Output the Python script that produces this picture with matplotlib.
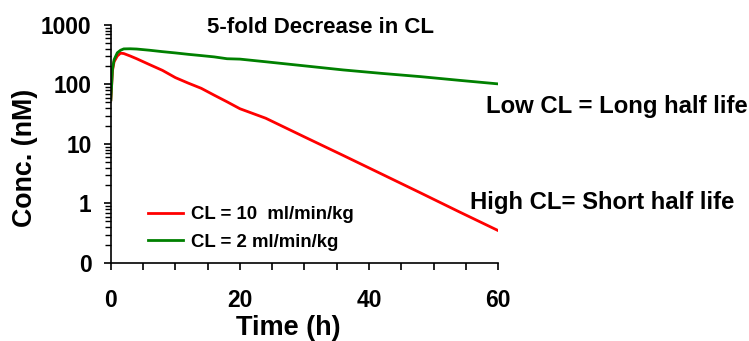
import numpy as np
import matplotlib
matplotlib.use('Agg')
import matplotlib.pyplot as plt
from matplotlib.ticker import FixedLocator, FixedFormatter, LogLocator, MultipleLocator

plt.rcParams['font.family'] = ['Liberation Sans', 'DejaVu Sans']
plt.rcParams['font.weight'] = 'bold'

## Concentration-time data
time_h = [0, 0.25, 0.5, 1, 1.5, 2, 3, 4, 6, 8, 10, 12, 14, 16, 18, 20,
          24, 30, 36, 42, 48, 54, 60]
conc_cl10 = [55, 170, 240, 300, 335, 330, 300, 270, 215, 172, 130, 105, 86,
             66, 51, 39, 27, 13.1, 6.4, 3.1, 1.5, 0.72, 0.35]
conc_cl2 = [55, 180, 260, 340, 375, 395, 397, 393, 375, 355, 338, 320, 305,
            290, 270, 266, 240, 205, 175, 153, 135, 117, 102]

ytick_vals = [0.1, 1, 10, 100, 1000]
ytick_labels = ['0', '1', '10', '100', '1000']
xtick_vals = [0, 20, 40, 60]

fig = plt.figure(figsize=(7.49, 3.41), dpi=100)
ax = fig.add_axes([0.148, 0.229, 0.517, 0.698])

ax.plot(time_h, conc_cl10, color='#ff0000', lw=2, label='CL = 10  ml/min/kg')
ax.plot(time_h, conc_cl2, color='#008000', lw=2, label='CL = 2 ml/min/kg')

ax.set_yscale('log')
ax.set_ylim(0.1, 1000)
ax.set_xlim(0, 60)
ax.yaxis.set_major_locator(FixedLocator(ytick_vals))
ax.yaxis.set_major_formatter(FixedFormatter(ytick_labels))
ax.yaxis.set_minor_locator(LogLocator(base=10, subs=np.arange(2, 10)))
ax.yaxis.set_minor_formatter(FixedFormatter([]))
ax.set_xticks(xtick_vals)
ax.xaxis.set_minor_locator(MultipleLocator(5))

for s in ['top', 'right']:
    ax.spines[s].set_visible(False)
for s in ['left', 'bottom']:
    ax.spines[s].set_linewidth(1.2)

ax.tick_params(axis='y', which='major', direction='out', length=5, width=1.2,
               labelsize=16.4, pad=9)
ax.tick_params(axis='y', which='minor', direction='out', length=4, width=1)
ax.tick_params(axis='x', which='both', direction='out', length=5, width=1.2,
               labelsize=16.4, pad=14)

ax.set_xlabel('Time (h)', fontsize=19.5, fontweight='bold')
ax.set_ylabel('Conc. (nM)', fontsize=19.3, fontweight='bold')
ax.xaxis.set_label_coords(0.457, -0.218)
ax.yaxis.set_label_coords(-0.187, 0.44)

fig.text(0.276, 0.904, '5-fold Decrease in CL', fontsize=16,
         fontweight='bold', ha='left', va='baseline')
fig.text(0.649, 0.669, 'Low CL = Long half life', fontsize=17.2,
         fontweight='bold', ha='left', va='baseline')
fig.text(0.627, 0.387, 'High CL= Short half life', fontsize=17.2,
         fontweight='bold', ha='left', va='baseline')

ax.legend(loc='center left', bbox_to_anchor=(0.096, 0.145), frameon=False,
          borderaxespad=0, borderpad=0, handlelength=1.9, handletextpad=0.4,
          labelspacing=0.55, prop={'weight': 'bold', 'size': 13.4})

fig.savefig('out.png', dpi=100)
